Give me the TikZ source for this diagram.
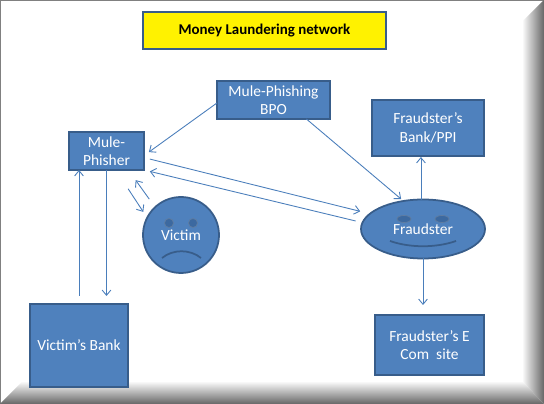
\documentclass[tikz,border=0pt]{standalone}
\usepackage{fontspec}
\setmainfont{Carlito}
\definecolor{mlFill}{RGB}{79,129,189}
\definecolor{mlEdge}{RGB}{56,93,138}
\definecolor{mlFace}{RGB}{60,105,160}
\definecolor{mlLink}{RGB}{74,126,187}
\usetikzlibrary{shapes,arrows.meta,positioning}

\tikzset{
    mlbox/.style={draw=mlEdge, line width=1pt, fill=mlFill, text=white, align=center, inner sep=0pt, outer sep=0pt, font=\fontsize{8.8}{10.4}\selectfont},
    flow/.style={draw=mlLink, line width=0.5pt, -{Straight Barb[length=3pt,width=5pt]}},
}

\begin{document}
\begin{tikzpicture}[x=0.02cm, y=-0.02cm]
    \useasboundingbox (0,0) rectangle (544,404);
    % Picture frame
    \fill[white] (0,0) rectangle (544,404);
    \draw[gray, line width=0.7pt] (0.5,404) -- (0.5,0.5) -- (544,0.5);
    \shade[top color=white, bottom color=black!60] (0,404) -- (23,381) -- (522,381) -- (544,404) -- cycle;
    \shade[left color=white, right color=black!60] (544,0) -- (522,22) -- (522,381) -- (544,404) -- cycle;

    % Title
    \node[mlbox, fill=yellow, minimum width=243*0.02cm, minimum height=37*0.02cm, text=black] (title) at (264.5,30.5) {\fontsize{8.5}{10}\selectfont\textbf{Money Laundering network}};

    % Boxes
    \node[mlbox, minimum width=113*0.02cm, minimum height=38*0.02cm] (bpo) at (273.5,100) {Mule-Phishing\\BPO};
    \node[mlbox, minimum width=75*0.02cm, minimum height=38*0.02cm] (mule) at (106.5,151) {Mule-\\Phisher};
    \node[mlbox, minimum width=112*0.02cm, minimum height=56*0.02cm] (fbank) at (428,128) {Fraudster’s\\Bank/PPI};
    \node[mlbox, minimum width=98*0.02cm, minimum height=83*0.02cm] (vbank) at (79,345.5) {Victim’s Bank};
    \node[mlbox, minimum width=109*0.02cm, minimum height=60*0.02cm] (ecom) at (429.5,345) {Fraudster’s E\\Com\ \ site};

    % Faces
    \node[mlbox, ellipse, minimum width=124*0.02cm, minimum height=59*0.02cm] (fraudster) at (423,229) {Fraudster};
    \node[mlbox, circle, minimum size=76*0.02cm] (victim) at (181,235) {\raisebox{-1pt}{Victim}};
    \fill[mlFace, draw=mlEdge!80] (404,219) ellipse (7 and 3.5);
    \fill[mlFace, draw=mlEdge!80] (442,219) ellipse (7 and 3.5);
    \draw[mlEdge, line width=1pt] (390,241) .. controls (410,248) and (436,248) .. (456,241);
    \fill[mlFace, draw=mlEdge!80] (169,223) circle (4.5);
    \fill[mlFace, draw=mlEdge!80] (193,223) circle (4.5);
    \draw[mlEdge, line width=1pt] (162,258) .. controls (173,249) and (190,249) .. (201,258);

    % Connectors
    \draw[flow, shorten >=0.12cm] (bpo.183) -- (mule.-7);
    \draw[flow, shorten >=0.06cm] (bpo.-30) -- (fraudster.125);
    \draw[flow, shorten <=0.12cm, shorten >=0.2cm] (mule.-10) -- (fraudster.164);
    \draw[flow, shorten <=0.14cm, shorten >=0.12cm] (fraudster.174) -- (mule.south east);
    \draw[flow, shorten <=0.45cm, shorten >=0.14cm] (mule.-64) -- (victim.153);
    \draw[flow, shorten <=0.2cm, shorten >=0.25cm] (victim.133) -- (mule.-41);
    \draw[flow, shorten <=0.16cm] (vbank.north) -- (vbank.north |- mule.south);
    \draw[flow, shorten >=0.16cm] (mule.south) -- (mule.south |- vbank.north);
    \draw[flow, shorten >=0.02cm] (fraudster.94) -- (fraudster.94 |- fbank.south);
    \draw[flow, shorten >=0.2cm] (fraudster.south) -- (fraudster.south |- ecom.north);
\end{tikzpicture}
\end{document}
